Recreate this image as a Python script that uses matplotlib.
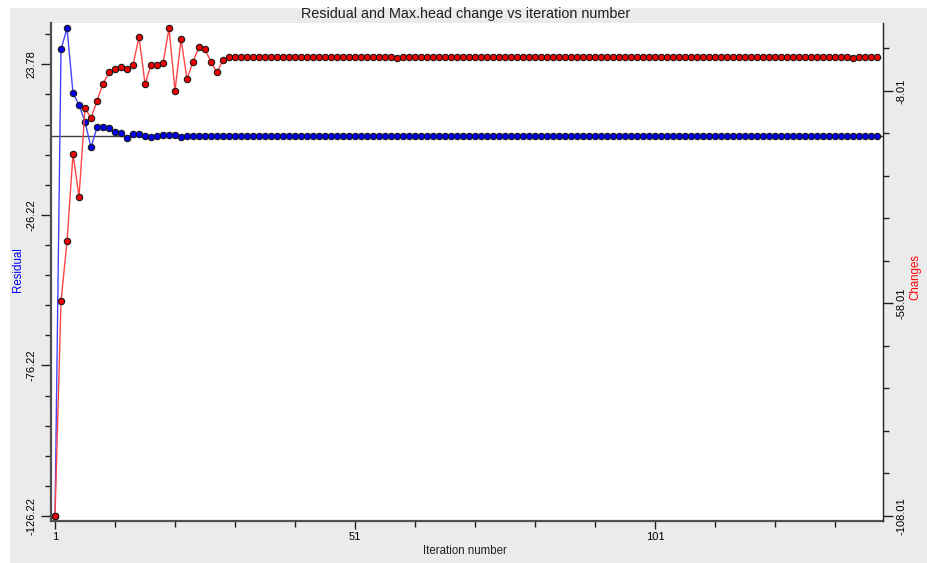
import matplotlib
matplotlib.use('Agg')
import matplotlib.pyplot as plt
from matplotlib.patches import Rectangle
import numpy as np

plt.rcParams['font.family'] = ['Liberation Sans', 'DejaVu Sans']

# ------------------------------------------------
# DATA
# ------------------------------------------------
residual_head = [-126.22, 28.8, 35.75, 14.2, 10.3, 4.7, -3.8, 2.9, 2.9, 2.7,
                 1.3, 1.1, -0.8, 0.65, 0.65, 0.1, -0.25, -0.1, 0.2, 0.3,
                 0.2, -0.3]
residual_tail = [0.0] * 116
residual = residual_head + residual_tail

changes_head = [-108.01, -57.5, -43.4, -22.8, -32.9, -12.1, -14.4, -10.3, -6.3, -3.6,
                -2.8, -2.4, -2.9, -1.9, 4.7, -6.3, -1.9, -1.9, -1.5, 6.75,
                -7.9, 4.2, -5.2, -1.1, 2.4, 1.8, -1.2, -3.6, -0.7, -0.1]
changes_tail = [0.0] * 27 + [-0.35] + [0.0] * 75 + [-0.35] + [0.0] * 4
changes = changes_head + changes_tail

iterations = np.arange(1, len(residual) + 1)

left_ticks = [-126.22, -76.22, -26.22, 23.78]
right_ticks = [-108.01, -58.01, -8.01]
x_ticks = [1, 51, 101]

# ------------------------------------------------
# FIGURE
# ------------------------------------------------
W, H = 928, 563
fig = plt.figure(figsize=(W / 100, H / 100), dpi=100, facecolor='#ebebeb')
fig.patches.append(Rectangle((0, 1 - 7 / H), 1, 7 / H, transform=fig.transFigure,
                             color='white', zorder=0))
fig.patches.append(Rectangle((0, 0), 9 / W, 1, transform=fig.transFigure,
                             color='white', zorder=0))

ax = fig.add_axes([51 / W, (H - 521) / H, 832 / W, 498 / H])
ax.set_facecolor('white')
ax2 = ax.twinx()

# residual (left axis)
ax.axhline(0, color='#404040', linewidth=1, zorder=1)
ax.plot(iterations, residual, color='#4444ff', linewidth=1, zorder=2,
        marker='o', markersize=4.6, markerfacecolor='#0000ee',
        markeredgecolor='#1a1a1a', markeredgewidth=0.8)

# changes (right axis)
ax2.plot(iterations, changes, color='#ff4444', linewidth=1, zorder=2,
         marker='o', markersize=4.6, markerfacecolor='#ee0000',
         markeredgecolor='#1a1a1a', markeredgewidth=0.8)

ax.set_xlim(0.33, 139)
ax.set_ylim(-127.88, 37.5)
ax2.set_ylim(-109.19, 7.99)

# ------------------------------------------------
# AXES STYLE
# ------------------------------------------------
for a in (ax, ax2):
    a.spines['top'].set_visible(False)
ax.spines['left'].set_color('#505050')
ax.spines['left'].set_linewidth(1.6)
ax.spines['bottom'].set_color('#505050')
ax.spines['bottom'].set_linewidth(1.6)
ax.spines['right'].set_visible(False)
ax2.spines['left'].set_visible(False)
ax2.spines['bottom'].set_visible(False)
ax2.spines['right'].set_color('#202020')
ax2.spines['right'].set_linewidth(1.0)

ax.set_xticks(x_ticks)
ax.set_xticks(np.arange(11, 139, 10), minor=True)
ax.set_yticks(left_ticks)
ax.set_yticks(np.arange(-116.22, 37, 10), minor=True)
ax2.set_yticks(right_ticks)
ax2.set_yticks(np.arange(-98.01, 8, 10), minor=True)

ax.tick_params(axis='x', which='major', length=6, width=1, color='#202020',
               labelsize=8, pad=2)
ax.tick_params(axis='x', which='minor', length=4, width=1, color='#202020')
ax.tick_params(axis='y', which='major', length=7, width=1, color='#202020',
               labelsize=8, labelrotation=90, pad=3.5)
ax.tick_params(axis='y', which='minor', length=4, width=1, color='#202020')
ax2.tick_params(axis='y', which='major', length=7, width=1, color='#202020',
                labelsize=8, labelrotation=90, pad=3)
ax2.tick_params(axis='y', which='minor', length=4, width=1, color='#202020')
ax.set_yticklabels([f'{t:.2f}' for t in left_ticks], va='center')
ax2.set_yticklabels([f'{t:.2f}' for t in right_ticks], va='center')

# ------------------------------------------------
# LABELS
# ------------------------------------------------
fig.text(466 / W, 1 - 14 / H, 'Residual and Max.head change vs iteration number',
         ha='center', va='center', fontsize=10.4, color='#202020')
fig.text(465 / W, 1 - 551 / H, 'Iteration number', ha='center', va='center',
         fontsize=8.3, color='#202020')
fig.text(18 / W, 1 - 270 / H, 'Residual', ha='center', va='center',
         rotation=90, fontsize=8.3, color='#0000ff')
fig.text(915 / W, 1 - 277 / H, 'Changes', ha='center', va='center',
         rotation=90, fontsize=8.3, color='#ff0000')

fig.savefig('out.png', dpi=100, facecolor=fig.get_facecolor())
